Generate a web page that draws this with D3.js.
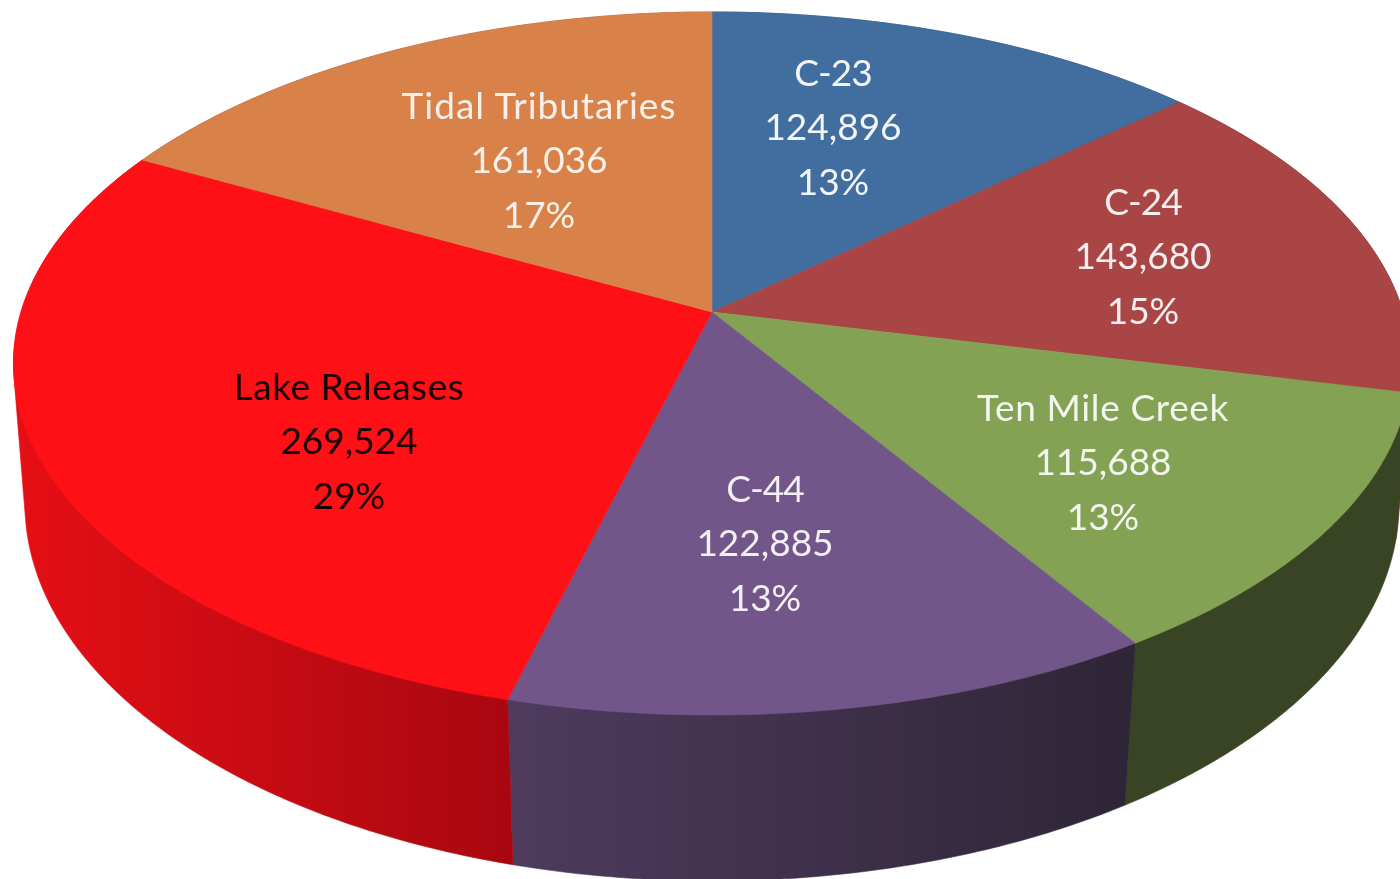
<!DOCTYPE html>
<html lang="en">
<head>
  <meta charset="UTF-8">
  <title>Sources by basin</title>
  <script src="https://cdnjs.cloudflare.com/ajax/libs/d3/7.8.5/d3.min.js"></script>
  <style>
    html, body { margin: 0; padding: 0; background: #fff; overflow: hidden; }
    svg { display: block; }
    text { font-family: Lato, "Open Sans", sans-serif; font-size: 37px; text-anchor: middle; }
  </style>
</head>
<body>
<div id="chart"></div>
<script>
  // Values
  const names = ["C-23", "C-24", "Ten Mile Creek", "C-44", "Lake Releases", "Tidal Tributaries"];
  const values = [124896, 143680, 115688, 122885, 269524, 161036];
  const valueLabels = ["124,896", "143,680", "115,688", "122,885", "269,524", "161,036"];
  const percentLabels = ["13%", "15%", "13%", "13%", "29%", "17%"];

  // Styling per slice
  const topColors = ["#416d9f", "#a94545", "#84a254", "#725689", "#ff1016", "#d8824a"];
  const sideFrom = ["#2a4668", "#6e2c2c", "#384424", "#4e3b5e", "#e60f15", "#8c5430"];
  const sideTo = ["#2a4668", "#6e2c2c", "#384424", "#2e2536", "#a80710", "#8c5430"];
  const textColors = ["#f2f5f8", "#f5eeee", "#f3f6ee", "#f3f0f5", "#1a0003", "#f8efe8"];
  const labelX = [833, 1143, 1103, 765, 349, 539];
  const labelY = [73, 202, 408, 489, 387, 106];
  const nameSpacing = [-1, -1, 0.65, -1, 0.5, 1];

  const width = 1400;
  const height = 879;
  const lineGap = 54.5;

  // Perspective of the top face
  const topRim = { cy: 312, ry: 344, depth: 0.1465, scale: 1 };
  // The lower rim sits further from the eye
  const bottomRim = { cy: 452, ry: 376, depth: 0.1365, scale: 0.985 };
  const centerX = 712;
  const centerY = topRim.cy;
  const radiusX = 691;

  function project(angle, rim) {
    const u = Math.sin(angle);
    const v = -Math.cos(angle);
    const s = rim.scale / (1 - rim.depth * v);
    return [centerX + radiusX * u * s, rim.cy + rim.ry * v * s];
  }

  function arcPoints(a0, a1, rim) {
    const steps = Math.max(2, Math.ceil((a1 - a0) / 0.01));
    return d3.range(steps + 1).map(i => project(a0 + (a1 - a0) * i / steps, rim));
  }

  const pie = d3.pie().sort(null).value(d => d);
  const slices = pie(values);
  const line = d3.line().curve(d3.curveLinear);

  const svg = d3.select("#chart").append("svg")
          .attr("width", width)
          .attr("height", height);

  const defs = svg.append("defs");
  defs.append("filter").attr("id", "soft")
          .append("feGaussianBlur").attr("stdDeviation", 0.55);

  // Shaded side wall of each slice, the hull keeps the fold at the rim filled
  slices.forEach((d, i) => {
    const rimPoints = arcPoints(d.startAngle, d.endAngle, topRim)
            .concat(arcPoints(d.startAngle, d.endAngle, bottomRim));
    const xs = d3.extent(rimPoints, p => p[0]);
    const grad = defs.append("linearGradient")
            .attr("id", "side" + i)
            .attr("gradientUnits", "userSpaceOnUse")
            .attr("x1", xs[0]).attr("x2", xs[1])
            .attr("y1", 0).attr("y2", 0);
    grad.append("stop").attr("offset", 0).attr("stop-color", sideFrom[i]);
    grad.append("stop").attr("offset", 1).attr("stop-color", sideTo[i]);

    svg.append("path")
            .attr("d", line(d3.polygonHull(rimPoints)) + "Z")
            .attr("fill", `url(#side${i})`)
            .attr("stroke", `url(#side${i})`)
            .attr("stroke-width", 0.6);
  });

  // Top face
  svg.selectAll(".top")
          .data(slices)
          .enter()
          .append("path")
          .attr("class", "top")
          .attr("d", d => line([[centerX, centerY], ...arcPoints(d.startAngle, d.endAngle, topRim)]) + "Z")
          .attr("fill", (d, i) => topColors[i])
          .attr("stroke", (d, i) => topColors[i])
          .attr("stroke-width", 0.6);

  // Labels
  const labels = svg.selectAll(".label")
          .data(names)
          .enter()
          .append("g")
          .attr("class", "label")
          .attr("filter", "url(#soft)")
          .attr("fill", (d, i) => textColors[i]);

  labels.each(function(d, i) {
    [d, valueLabels[i], percentLabels[i]].forEach((t, k) => {
      d3.select(this).append("text")
              .attr("x", labelX[i])
              .attr("y", labelY[i] + k * lineGap)
              .attr("dy", "0.35em")
              .attr("letter-spacing", k === 0 ? nameSpacing[i] : 0)
              .text(t);
    });
  });
</script>
</body>
</html>
